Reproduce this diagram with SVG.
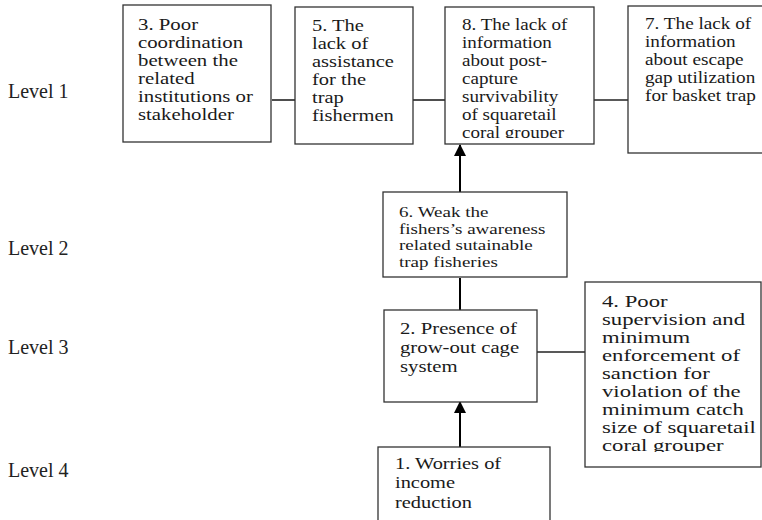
<svg xmlns="http://www.w3.org/2000/svg" width="762" height="520" viewBox="0 0 762 520">
  <style>
    .box { fill: #ffffff; stroke: #333333; stroke-width: 1.3; }
    .t { font-family: "Liberation Serif", "Times New Roman", serif; font-size: 16px; fill: #1a1a1a; }
    .lvl { font-family: "Liberation Serif", "Times New Roman", serif; font-size: 20px; fill: #222222; }
    .link { stroke: #222222; stroke-width: 1.6; fill: none; }
    .stem { stroke: #000000; stroke-width: 2; fill: none; }
  </style>
  <defs>
    <marker id="arrow" viewBox="0 0 12 12" refX="11" refY="6" markerWidth="12" markerHeight="12" markerUnits="userSpaceOnUse" orient="auto">
      <path d="M0,0 L12,6 L0,12 Z" fill="#000000"/>
    </marker>
    <clipPath id="clip8"><rect x="445" y="7" width="149" height="131"/></clipPath>
    <clipPath id="clip4"><rect x="585" y="282" width="176" height="170"/></clipPath>
  </defs>

  <rect width="762" height="520" fill="#ffffff"/>

  <!-- level labels -->
  <g id="levels">
    <text class="lvl" x="8" y="98">Level 1</text>
    <text class="lvl" x="8" y="255">Level 2</text>
    <text class="lvl" x="8" y="354">Level 3</text>
    <text class="lvl" x="8" y="477">Level 4</text>
  </g>

  <!-- connectors -->
  <g id="connectors">
    <line class="link" x1="272" y1="100" x2="295" y2="100"/>
    <line class="link" x1="413" y1="100" x2="445" y2="100"/>
    <line class="link" x1="594" y1="100" x2="628" y2="100"/>
    <line class="stem" x1="460" y1="192" x2="460" y2="145" marker-end="url(#arrow)"/>
    <line class="stem" x1="460" y1="278" x2="460" y2="310"/>
    <line class="link" x1="537" y1="352" x2="585" y2="352"/>
    <line class="stem" x1="460" y1="447" x2="460" y2="402" marker-end="url(#arrow)"/>
  </g>

  <g id="node3">
    <rect class="box" x="123" y="5" width="148" height="137"/>
    <text class="t" transform="translate(138,0) scale(1.3,1)">
      <tspan x="0" y="30">3. Poor</tspan>
      <tspan x="0" y="48">coordination</tspan>
      <tspan x="0" y="66">between the</tspan>
      <tspan x="0" y="84">related</tspan>
      <tspan x="0" y="102">institutions or</tspan>
      <tspan x="0" y="120">stakeholder</tspan>
    </text>
  </g>

  <g id="node5">
    <rect class="box" x="295" y="7" width="118" height="137"/>
    <text class="t" transform="translate(312,0) scale(1.28,1)">
      <tspan x="0" y="31">5. The</tspan>
      <tspan x="0" y="49">lack of</tspan>
      <tspan x="0" y="67">assistance</tspan>
      <tspan x="0" y="85">for the</tspan>
      <tspan x="0" y="103">trap</tspan>
      <tspan x="0" y="121">fishermen</tspan>
    </text>
  </g>

  <g id="node8">
    <rect class="box" x="445" y="7" width="149" height="137"/>
    <g clip-path="url(#clip8)">
      <text class="t" transform="translate(462,0) scale(1.19,1)">
        <tspan x="0" y="30">8. The lack of</tspan>
        <tspan x="0" y="48">information</tspan>
        <tspan x="0" y="66">about post-</tspan>
        <tspan x="0" y="84">capture</tspan>
        <tspan x="0" y="102">survivability</tspan>
        <tspan x="0" y="120">of squaretail</tspan>
        <tspan x="0" y="138">coral grouper</tspan>
      </text>
    </g>
  </g>

  <g id="node7">
    <rect class="box" x="628" y="6" width="140" height="147"/>
    <text class="t" transform="translate(645,0) scale(1.2,1)">
      <tspan x="0" y="29">7. The lack of</tspan>
      <tspan x="0" y="47">information</tspan>
      <tspan x="0" y="65">about escape</tspan>
      <tspan x="0" y="83">gap utilization</tspan>
      <tspan x="0" y="101">for basket trap</tspan>
    </text>
  </g>

  <g id="node6">
    <rect class="box" x="383" y="192" width="184" height="85"/>
    <text class="t" style="font-size:15px" transform="translate(399,0) scale(1.27,1)">
      <tspan x="0" y="217">6. Weak the</tspan>
      <tspan x="0" y="234">fishers’s awareness</tspan>
      <tspan x="0" y="250.5">related sutainable</tspan>
      <tspan x="0" y="267">trap fisheries</tspan>
    </text>
  </g>

  <g id="node2">
    <rect class="box" x="384" y="310" width="153" height="92"/>
    <text class="t" style="font-size:17px" transform="translate(400,0) scale(1.22,1)">
      <tspan x="0" y="334">2. Presence of</tspan>
      <tspan x="0" y="353">grow-out cage</tspan>
      <tspan x="0" y="372">system</tspan>
    </text>
  </g>

  <g id="node4">
    <rect class="box" x="585" y="282" width="176" height="185"/>
    <g clip-path="url(#clip4)">
      <text class="t" transform="translate(602,0) scale(1.42,1)">
        <tspan x="0" y="307">4. Poor</tspan>
        <tspan x="0" y="325">supervision and</tspan>
        <tspan x="0" y="343">minimum</tspan>
        <tspan x="0" y="361">enforcement of</tspan>
        <tspan x="0" y="379">sanction for</tspan>
        <tspan x="0" y="397">violation of the</tspan>
        <tspan x="0" y="415">minimum catch</tspan>
        <tspan x="0" y="433">size of squaretail</tspan>
        <tspan x="0" y="451">coral grouper</tspan>
      </text>
    </g>
  </g>

  <g id="node1">
    <rect class="box" x="378" y="447" width="172" height="90"/>
    <text class="t" style="font-size:17px" transform="translate(395,0) scale(1.2,1)">
      <tspan x="0" y="469">1. Worries of</tspan>
      <tspan x="0" y="488">income</tspan>
      <tspan x="0" y="508">reduction</tspan>
    </text>
  </g>
</svg>
